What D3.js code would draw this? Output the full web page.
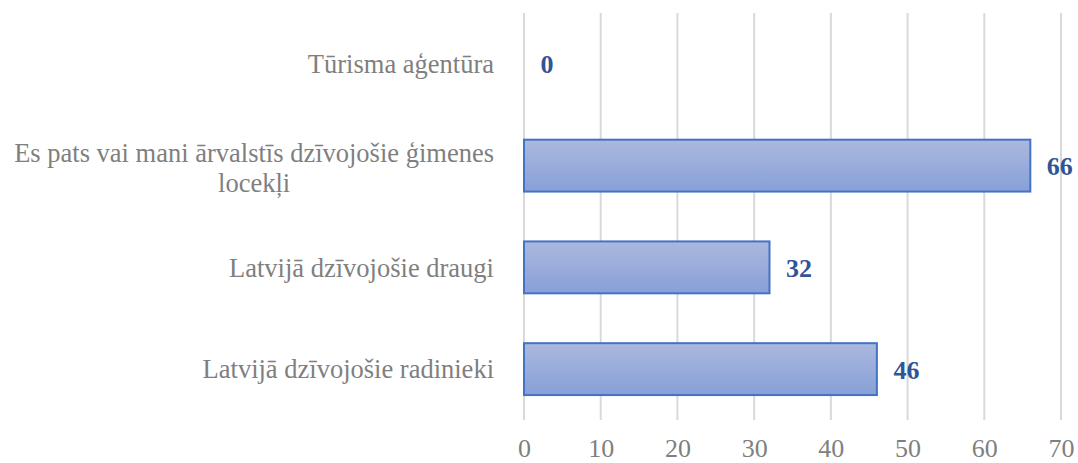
<!DOCTYPE html>
<html>
<head>
<meta charset="utf-8">
<script src="https://cdn.jsdelivr.net/npm/d3@7"></script>
<style>
  body { margin: 0; background: #fff; }
  text { font-family: "Liberation Serif", "Times New Roman", serif; }
</style>
</head>
<body>
<script>
// data, top to bottom
const categories = [
  "Tūrisma aģentūra",
  "Es pats vai mani ārvalstīs dzīvojošie ģimenes|locekļi",
  "Latvijā dzīvojošie draugi",
  "Latvijā dzīvojošie radinieki"
];
const values = [0, 66, 32, 46];
const ticks = [0, 10, 20, 30, 40, 50, 60, 70];

const W = 1078, H = 463;
const margin = { top: 13, right: 17, bottom: 43, left: 524 };
const height = H - margin.top - margin.bottom;

const svg = d3.select("body").append("svg")
  .attr("width", W)
  .attr("height", H);

const grad = svg.append("defs").append("linearGradient")
  .attr("id", "barGrad")
  .attr("x1", 0).attr("y1", 0).attr("x2", 0).attr("y2", 1);
grad.append("stop").attr("offset", "0%").attr("stop-color", "#abb8df");
grad.append("stop").attr("offset", "100%").attr("stop-color", "#87a0d7");

const g = svg.append("g")
  .attr("transform", `translate(${margin.left},${margin.top})`);

const x = d3.scaleLinear().domain([0, 70]).range([0, 537]);
const y = d3.scaleBand().domain(categories).range([0, height]).paddingInner(0.49).paddingOuter(0.245);

// gridlines
g.selectAll(".grid")
  .data(ticks)
  .enter().append("line")
  .attr("class", "grid")
  .attr("x1", d => x(d)).attr("x2", d => x(d))
  .attr("y1", 0).attr("y2", height)
  .attr("stroke", "#d9d9d9")
  .attr("stroke-width", 2);

// x axis labels
const xAxis = g.append("g")
  .attr("transform", `translate(0,${height})`)
  .call(d3.axisBottom(x).tickValues(ticks).tickSize(0).tickPadding(19));
xAxis.select(".domain").remove();
xAxis.selectAll("text")
  .attr("fill", "#7f7f7f")
  .style("font-size", "26px")
  .style("font-family", "Liberation Serif, serif");

// bars
g.selectAll(".bar")
  .data(values)
  .enter().append("rect")
  .attr("class", "bar")
  .attr("x", x(0))
  .attr("y", (d, i) => y(categories[i]))
  .attr("width", d => x(d))
  .attr("height", y.bandwidth())
  .attr("fill", "url(#barGrad)")
  .attr("stroke", d => d > 0 ? "#4472c4" : "none")
  .attr("stroke-width", 2);

// value labels
g.selectAll(".val")
  .data(values)
  .enter().append("text")
  .attr("class", "val")
  .attr("x", d => x(d) + 16.5)
  .attr("y", (d, i) => y(categories[i]) + y.bandwidth() / 2)
  .attr("dy", "0.37em")
  .attr("fill", "#2f5597")
  .style("font-size", "26px")
  .style("font-weight", "bold")
  .text(d => d);

// category labels
const lab = svg.append("g")
  .attr("transform", `translate(${margin.left - 30},${margin.top})`);
lab.selectAll("text")
  .data(categories)
  .enter().append("text")
  .attr("fill", "#7f7f7f")
  .style("font-size", "26.5px")
  .each(function (d) {
    const lines = d.split("|");
    const t = d3.select(this);
    const cy = y(d) + y.bandwidth() / 2 + (lines.length > 1 ? 2 : 0);
    const lh = 30;
    lines.forEach((ln, j) => {
      t.append("tspan")
        .attr("y", cy + (j - (lines.length - 1) / 2) * lh)
        .attr("dy", "0.35em")
        .text(ln);
    });
    if (lines.length === 1) {
      t.attr("text-anchor", "end").selectAll("tspan").attr("x", 0);
    } else {
      const w = t.select("tspan").node().getComputedTextLength();
      t.attr("text-anchor", "middle").selectAll("tspan").attr("x", -w / 2);
    }
  });
</script>
</body>
</html>
